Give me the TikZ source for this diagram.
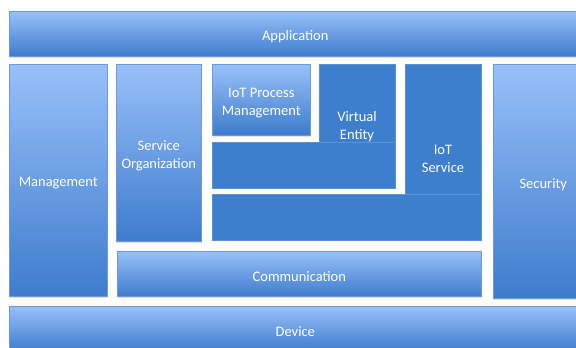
\documentclass[tikz,border=0pt]{standalone}
\usepackage{fontspec}
\setmainfont{Carlito}
\usetikzlibrary{shadows}
\definecolor{boxtop}{RGB}{152,192,250}
\definecolor{boxbot}{RGB}{62,124,204}
\definecolor{boxline}{RGB}{110,152,215}
\definecolor{darkfill}{RGB}{61,126,205}
\definecolor{darkline}{RGB}{90,145,215}
\tikzset{
  lbl/.style={text=white, align=center, font=\fontsize{14.5}{18}\selectfont, inner sep=0pt},
  gbox/.style={rectangle, anchor=north west, inner sep=0pt,
    top color=boxtop, bottom color=boxbot, draw=boxline, line width=0.6pt,
    drop shadow={shadow xshift=1pt, shadow yshift=-1.2pt, opacity=0.25}},
  dbox/.style={rectangle, anchor=north west, inner sep=0pt,
    fill=darkfill, draw=darkline, line width=0.5pt},
  dshadow/.style={drop shadow={shadow xshift=1pt, shadow yshift=-1.2pt, opacity=0.25}},
  txt/.style={label={[lbl, yshift=-3pt]center:#1}}
}
\begin{document}
\begin{tikzpicture}[x=1pt,y=-1pt]
\useasboundingbox (0,0) rectangle (576,348);
\clip (0,0) rectangle (576,348);
\fill[white] (0,0) rectangle (576,348);
% top and bottom layers
\node[gbox, minimum width=572pt, minimum height=45pt, txt=Application] (app) at (9,11) {};
\node[gbox, minimum width=572pt, minimum height=45pt, txt=Device] (dev) at (9,306) {};
% side columns
\node[gbox, minimum width=98pt, minimum height=232pt, txt=Management] (mgmt) at (9,64) {};
\node[gbox, minimum width=100pt, minimum height=234pt, txt=Security] (sec) at (493,64) {};
\node[gbox, minimum width=85pt, minimum height=177pt, txt={Service\\Organization}] (so) at (116,64) {};
\node[gbox, minimum width=364pt, minimum height=45pt, txt=Communication] (comm) at (117,251) {};
% inner functional groups
\node[gbox, minimum width=98pt, minimum height=71pt, txt={IoT Process\\Management}] (ipm) at (212,64) {};
\node[dbox, minimum width=76pt, minimum height=124pt] (ve) at (319,64) {};
\node[lbl] (vetext) at (357,127) {Virtual\\Entity};
\node[dbox, dshadow, minimum width=183pt, minimum height=46pt] (veh) at (212,142) {};
\node[dbox, minimum width=76pt, minimum height=176pt] (ios) at (405,64) {};
\node[lbl] (iostext) at (443,158.5) {IoT\\Service};
\node[dbox, dshadow, minimum width=269pt, minimum height=46pt] (iosh) at (212,194) {};
\end{tikzpicture}
\end{document}
